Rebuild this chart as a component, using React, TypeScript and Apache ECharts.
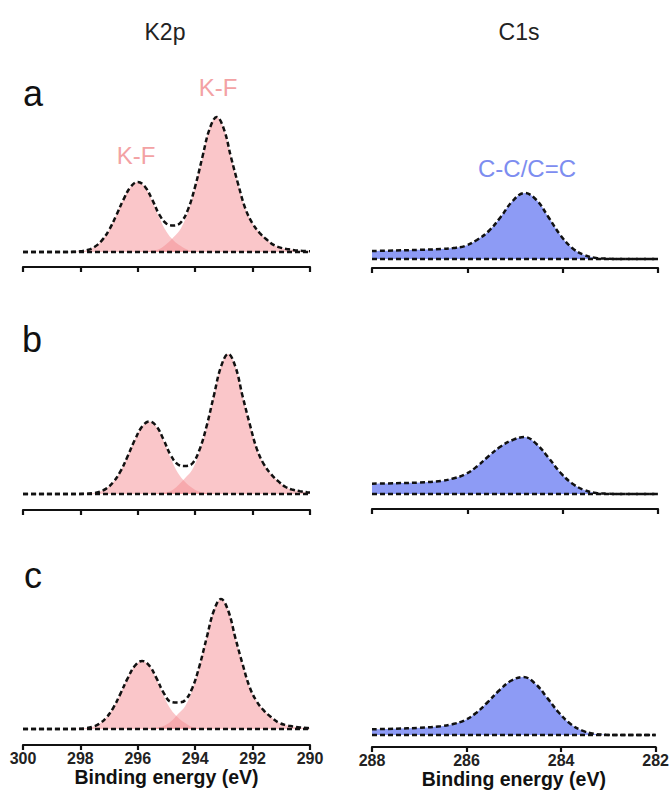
import React, { useEffect, useRef } from "react";
import * as echarts from "echarts";

// ---------- data (intensity in arbitrary units above the fitted baseline) ----------
const X_K_A = [300, 299.75, 299.5, 299.25, 299, 298.75, 298.5, 298.25, 298, 297.75, 297.5, 297.25, 297, 296.75, 296.5, 296.25, 296, 295.75, 295.5, 295.25, 295, 294.75, 294.5, 294.25, 294, 293.75, 293.5, 293.25, 293, 292.75, 292.5, 292.25, 292, 291.75, 291.5, 291.25, 291, 290.75, 290.5, 290.25, 290];
const A_SMALL = [0, 0, 0, 0, 0, 0, 0, 0.2, 0.7, 2.0, 5.3, 11.6, 22.1, 36.6, 52.4, 65.1, 70, 64.8, 51.1, 34.3, 20.3, 11.5, 6.0, 2.1, 0.8, 0.3, 0, 0, 0, 0, 0, 0, 0, 0, 0, 0, 0, 0, 0, 0, 0];
const A_BIG = [0, 0, 0, 0, 0, 0, 0, 0, 0, 0, 0, 0, 0, 0, 0, 0, 0.1, 0.5, 1.4, 3.0, 8.0, 15.0, 23.6, 40.5, 64.8, 94.5, 122.9, 135, 122.9, 94.5, 67.5, 43.2, 28.4, 18.9, 12.2, 6.8, 4.1, 2.7, 1.6, 1.1, 0.7];

const X_K_BC = [300, 299.85, 299.6, 299.35, 299.1, 298.85, 298.6, 298.35, 298.1, 297.85, 297.6, 297.35, 297.1, 296.85, 296.6, 296.35, 296.1, 295.85, 295.6, 295.35, 295.1, 294.85, 294.6, 294.35, 294.1, 293.85, 293.6, 293.35, 293.1, 292.85, 292.6, 292.35, 292.1, 291.85, 291.6, 291.35, 291.1, 290.85, 290.6, 290.35, 290.1, 290];
const B_SMALL = [0, 0, 0, 0, 0, 0, 0, 0, 0, 0.2, 0.7, 2.1, 5.4, 12.0, 22.8, 37.9, 54.3, 67.4, 72.5, 67.1, 52.9, 35.5, 21.0, 12.0, 6.0, 2.2, 0.9, 0.3, 0, 0, 0, 0, 0, 0, 0, 0, 0, 0, 0, 0, 0, 0];
const B_BIG = [0, 0, 0, 0, 0, 0, 0, 0, 0, 0, 0, 0, 0, 0, 0, 0, 0, 0, 0.1, 0.6, 1.4, 3.1, 8.5, 16, 24.5, 42, 67.2, 98, 127.4, 140, 127.4, 98, 70, 44.8, 29.4, 19.6, 12.6, 7, 4.2, 2.8, 1.7, 1.5];
const C_SMALL = [0, 0, 0, 0, 0, 0, 0, 0, 0.2, 0.7, 2.0, 5.1, 11.2, 21.4, 35.6, 50.9, 63.2, 68, 62.9, 49.6, 33.3, 19.7, 11.5, 6.0, 2.0, 0.8, 0.3, 0, 0, 0, 0, 0, 0, 0, 0, 0, 0, 0, 0, 0, 0, 0];
const C_BIG = [0, 0, 0, 0, 0, 0, 0, 0, 0, 0, 0, 0, 0, 0, 0, 0, 0, 0.1, 0.5, 1.3, 2.9, 7.5, 15, 22.8, 39, 62.4, 91, 118.3, 130, 118.3, 91, 65, 41.6, 27.3, 18.2, 11.7, 6.5, 3.9, 2.6, 1.6, 1.0, 0.8];

const X_C = [288, 287.5, 287, 286.55, 286.3, 286.05, 285.8, 285.55, 285.3, 285.05, 284.8, 284.55, 284.3, 284.05, 283.8, 283.55, 283.3, 283.05, 282.8, 282.5, 282];
const C1S_A = [8, 8.5, 9.2, 10, 11, 13, 19, 28, 42, 58, 66, 59, 42, 24, 11, 4, 1.1, 0.3, 0, 0, 0];
const C1S_B = [10.3, 10.8, 11.5, 13, 15.5, 19.5, 27.5, 38, 47.5, 54, 57, 50, 36.5, 21.5, 10.5, 4, 1, 0.3, 0, 0, 0];
const C1S_C = [5.7, 6.3, 7.2, 8.8, 10.8, 14.5, 22, 33, 45, 54.5, 58, 51.5, 37.5, 22.5, 11, 4.3, 1.2, 0.3, 0, 0, 0];

const K_TICKS = [300, 298, 296, 294, 292, 290];
const C_TICKS = [288, 286, 284, 282];
const TITLES = ["K2p", "C1s"];
const PANEL_LETTERS = ["a", "b", "c"];
const X_NAME = "Binding energy (eV)";

// ---------- layout ----------
const FONT = 'Arial, "Liberation Sans", Helvetica, sans-serif';
const PINK = "rgba(245,138,144,0.7)";
const BLUE = "#8d9bf5";
const GH = 150; // grid height, 1 unit = 1 px

const LEFT_PANELS = [
  { base: 252, off: 15, x: X_K_A, small: A_SMALL, big: A_BIG },
  { base: 494, off: 16, x: X_K_BC, small: B_SMALL, big: B_BIG },
  { base: 729, off: 16, x: X_K_BC, small: C_SMALL, big: C_BIG },
];
const RIGHT_PANELS = [
  { base: 259, off: 9, y: C1S_A },
  { base: 494, off: 15, y: C1S_B },
  { base: 735, off: 12, y: C1S_C },
];

const zip = (xs: number[], ys: number[]) => xs.map((x, i) => [x, ys[i]]);

export default function App() {
  const ref = useRef<HTMLDivElement>(null);
  useEffect(() => {
    if (!ref.current) return;
    const chart = echarts.init(ref.current, undefined, { renderer: "svg" });
    const grids: any[] = [];
    const xAxes: any[] = [];
    const yAxes: any[] = [];
    const series: any[] = [];

    const dashed = { color: "#111", width: 2.5, type: [5, 3] as any };

    const mkX = (i: number, left: boolean, off: number, bottom: boolean) => {
      const ticks = left ? K_TICKS : C_TICKS;
      return {
        gridIndex: i,
        type: "value",
        inverse: true,
        min: Math.min(...ticks),
        max: Math.max(...ticks),
        interval: 2,
        offset: off,
        axisLine: { onZero: false, lineStyle: { color: "#111", width: 2.2 } },
        axisTick: { length: 5, lineStyle: { color: "#111", width: 2.2 } },
        axisLabel: {
          show: bottom,
          fontSize: 16,
          fontWeight: "bold",
          color: "#222",
          margin: 5,
          fontFamily: FONT,
        },
        splitLine: { show: false },
        name: bottom ? X_NAME : "",
        nameLocation: "middle",
        nameGap: 22,
        nameTextStyle: { fontSize: 19.5, fontWeight: "bold", color: "#111", fontFamily: FONT },
      };
    };

    LEFT_PANELS.forEach((p, k) => {
      const gi = grids.length;
      grids.push({ left: 23, width: 287, top: p.base - GH, height: GH });
      xAxes.push(mkX(gi, true, p.off, k === 2));
      yAxes.push({ gridIndex: gi, type: "value", min: 0, max: GH, show: false });
      const env = p.small.map((v, i) => v + p.big[i]);
      [p.small, p.big].forEach((comp) => {
        series.push({
          type: "line",
          xAxisIndex: gi,
          yAxisIndex: gi,
          data: zip(p.x, comp),
          smooth: 0.4,
          showSymbol: false,
          silent: true,
          lineStyle: { width: 0 },
          areaStyle: { color: PINK, origin: "start" },
          z: 1,
        });
      });
      series.push({
        type: "line",
        xAxisIndex: gi,
        yAxisIndex: gi,
        data: [[300, 0], [290, 0]],
        showSymbol: false,
        silent: true,
        clip: false,
        lineStyle: dashed,
        z: 3,
      });
      series.push({
        type: "line",
        xAxisIndex: gi,
        yAxisIndex: gi,
        data: zip(p.x, env),
        smooth: 0.4,
        showSymbol: false,
        silent: true,
        clip: false,
        lineStyle: dashed,
        z: 4,
      });
    });

    RIGHT_PANELS.forEach((p, k) => {
      const gi = grids.length;
      grids.push({ left: 372, width: 286, top: p.base - GH, height: GH });
      xAxes.push(mkX(gi, false, p.off, k === 2));
      yAxes.push({ gridIndex: gi, type: "value", min: 0, max: GH, show: false });
      series.push({
        type: "line",
        xAxisIndex: gi,
        yAxisIndex: gi,
        data: zip(X_C, p.y),
        smooth: 0.4,
        showSymbol: false,
        silent: true,
        lineStyle: { width: 0 },
        areaStyle: { color: BLUE, opacity: 1, origin: "start" },
        z: 1,
      });
      series.push({
        type: "line",
        xAxisIndex: gi,
        yAxisIndex: gi,
        data: [[288, 0], [282, 0]],
        showSymbol: false,
        silent: true,
        clip: false,
        lineStyle: dashed,
        z: 3,
      });
      series.push({
        type: "line",
        xAxisIndex: gi,
        yAxisIndex: gi,
        data: zip(X_C, p.y),
        smooth: 0.4,
        showSymbol: false,
        silent: true,
        clip: false,
        lineStyle: dashed,
        z: 4,
      });
    });

    const txt = (text: string, x: number, y: number, size: number, fill: string) => ({
      type: "text",
      x,
      y,
      z: 10,
      style: { text, fontSize: size, fill, align: "center", verticalAlign: "middle", fontFamily: FONT },
    });

    const graphic = [
      txt(TITLES[0], 165, 32, 23, "#222"),
      txt(TITLES[1], 519, 32, 23, "#222"),
      txt(PANEL_LETTERS[0], 33, 93, 36, "#111"),
      txt(PANEL_LETTERS[1], 32, 339, 36, "#111"),
      txt(PANEL_LETTERS[2], 33, 575, 36, "#111"),
      txt("K-F", 136, 155, 24, "#f3a2a4"),
      txt("K-F", 218, 87, 24, "#f3a2a4"),
      txt("C-C/C=C", 527, 168, 24, "#7d8df0"),
    ];

    chart.setOption({
      animation: false,
      backgroundColor: "#fff",
      grid: grids,
      xAxis: xAxes,
      yAxis: yAxes,
      series,
      graphic,
    });
    return () => chart.dispose();
  }, []);
  return (
    <div
      ref={ref}
      style={{ position: "fixed", left: 0, top: 0, width: 672, height: 799, background: "#fff" }}
    />
  );
}
